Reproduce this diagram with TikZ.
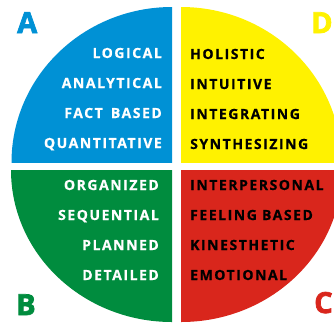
\documentclass[tikz,border=0pt]{standalone}
\usepackage{fontspec}
\newfontfamily\quadfont[LetterSpace=11, BoldFeatures={FakeBold=0.6}]{Open Sans}
\newfontfamily\letterfont[BoldFeatures={FakeBold=2.5}]{Open Sans}
\definecolor{quadblue}{RGB}{0,145,213}
\definecolor{quadyellow}{RGB}{255,242,0}
\definecolor{quadgreen}{RGB}{0,140,62}
\definecolor{quadred}{RGB}{217,38,28}
\tikzset{
	lightword/.style={inner sep=0pt, text=white, font=\quadfont\bfseries\fontsize{14}{14}\selectfont},
	darkword/.style={inner sep=0pt, text=black, font=\quadfont\bfseries\fontsize{14}{14}\selectfont},
	bigletter/.style={inner sep=0pt, anchor=base west, font=\letterfont\bfseries\fontsize{29}{29}\selectfont}
}

\begin{document}
\begin{tikzpicture}[x=1pt, y=-1pt]
		\useasboundingbox (0,0) rectangle (334,325);
		% four quarters of the disc
		\begin{scope}
			\clip (0,0) rectangle (172,162.5);
			\fill[quadblue] (172,162.5) ellipse [x radius=160.5pt, y radius=155.5pt];
		\end{scope}
		\begin{scope}
			\clip (181,0) rectangle (334,162.5);
			\fill[quadyellow] (181,162.5) ellipse [x radius=160.5pt, y radius=155.5pt];
		\end{scope}
		\begin{scope}
			\clip (0,170) rectangle (172,325);
			\fill[quadgreen] (172,170) ellipse [x radius=161pt, y radius=152pt];
		\end{scope}
		\begin{scope}
			\clip (181,170) rectangle (334,325);
			\fill[quadred] (181,170) ellipse [x radius=161pt, y radius=152pt];
		\end{scope}
		% A quarter
		\node [lightword, anchor=base east] (logical) at (162,58) {LOGICAL};
		\node [lightword, anchor=base east] (analytical) at (162,88) {ANALYTICAL};
		\node [lightword, anchor=base east] (factbased) at (162,118) {FACT\hspace{3pt} BASED};
		\node [lightword, anchor=base east] (quantitative) at (162,148) {QUANTITATIVE};
		% D quarter
		\node [darkword, anchor=base west] (holistic) at (190,59) {HOLISTIC};
		\node [darkword, anchor=base west] (intuitive) at (190,89) {INTUITIVE};
		\node [darkword, anchor=base west] (integrating) at (190,119) {INTEGRATING};
		\node [darkword, anchor=base west] (synthesizing) at (190,149) {SYNTHESIZING};
		% B quarter
		\node [lightword, anchor=base east] (organized) at (159,190) {ORGANIZED};
		\node [lightword, anchor=base east] (sequential) at (159,220) {SEQUENTIAL};
		\node [lightword, anchor=base east] (planned) at (159,250) {PLANNED};
		\node [lightword, anchor=base east] (detailed) at (159,280) {DETAILED};
		% C quarter
		\node [darkword, anchor=base west] (interpersonal) at (190,190) {INTERPERSONAL};
		\node [darkword, anchor=base west] (feelingbased) at (190,220) {FEELING BASED};
		\node [darkword, anchor=base west] (kinesthetic) at (190,250) {KINESTHETIC};
		\node [darkword, anchor=base west] (emotional) at (190,280) {EMOTIONAL};
		% corner letters
		\node [bigletter, text=quadblue] (letterA) at (17,33) {A};
		\node [bigletter, text=quadyellow] (letterD) at (311,33) {D};
		\node [bigletter, text=quadgreen] (letterB) at (16,315) {B};
		\node [bigletter, text=quadred] (letterC) at (314,313) {C};
	\end{tikzpicture}
\end{document}
